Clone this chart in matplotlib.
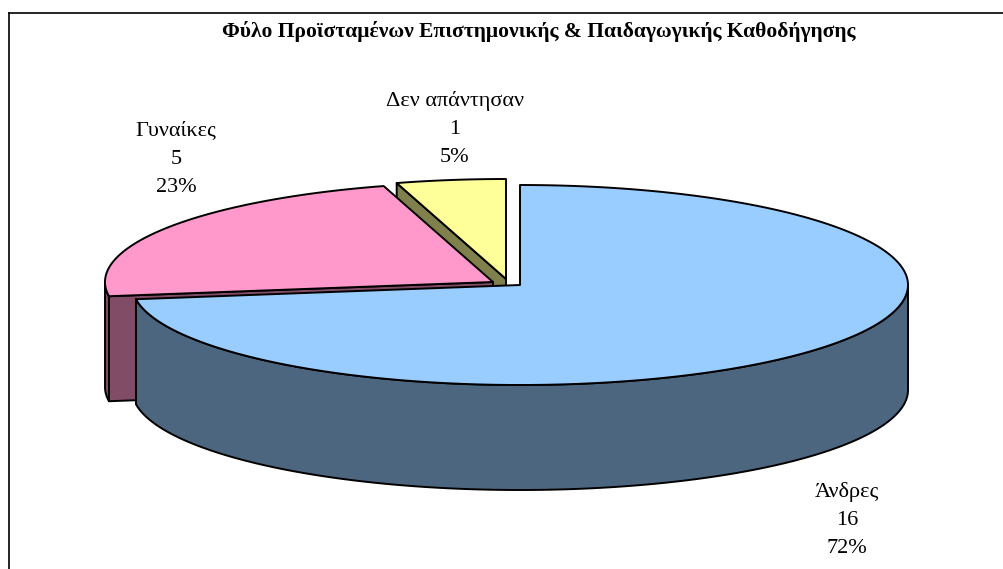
import matplotlib.pyplot as plt
import numpy as np
from matplotlib.patches import Polygon

title = "Φύλο Προϊσταμένων Επιστημονικής & Παιδαγωγικής Καθοδήγησης"
labels = ["Άνδρες", "Γυναίκες", "Δεν απάντησαν"]
counts = [16, 5, 1]
percents = [72, 23, 5]
top_colors = ["#99CCFF", "#FF99CC", "#FFFF99"]
side_colors = ["#4D6680", "#804C66", "#80804C"]
explode = [(0, 0), (-27, -3), (-14, -6)]      # pixel offsets of exploded slices
label_pos = [(847, 520), (176, 159), (455, 129)]

# pie geometry in pixels
cx, cy, rx, ry, depth = 520, 285, 388, 100, 105

fig = plt.figure(figsize=(10.04, 5.69), dpi=100)
ax = fig.add_axes([0, 0, 1, 1])
ax.set_xlim(0, 1004)
ax.set_ylim(569, 0)
ax.axis('off')

fracs = np.array(counts) / sum(counts)
ends = 90 - 360 * np.cumsum(fracs)
starts = ends + 360 * fracs


def arc(a_from, a_to, ox, oy, dz=0, n=300):
    r = np.radians(np.linspace(a_from, a_to, n))
    return np.column_stack([cx + ox + rx * np.cos(r), cy + oy - ry * np.sin(r) + dz])


def pt(a, ox, oy, dz=0):
    r = np.radians(a)
    return (cx + ox + rx * np.cos(r), cy + oy - ry * np.sin(r) + dz)


lw = 1.4
z = 1
for i in [2, 1, 0]:  # back to front
    a1, a2 = starts[i], ends[i]
    ox, oy = explode[i]
    c = (cx + ox, cy + oy)
    cb = (c[0], c[1] + depth)
    kw = dict(edgecolor='black', linewidth=lw, joinstyle='round')

    # radial walls facing the viewer
    if np.cos(np.radians(a1)) < -1e-6:
        p, pb = pt(a1, ox, oy), pt(a1, ox, oy, depth)
        ax.add_patch(Polygon([c, p, pb, cb], facecolor=side_colors[i], zorder=z, **kw))
    if np.cos(np.radians(a2)) > 1e-6:
        p, pb = pt(a2, ox, oy), pt(a2, ox, oy, depth)
        ax.add_patch(Polygon([c, p, pb, cb], facecolor=side_colors[i], zorder=z, **kw))

    # front part of outer wall
    a = np.linspace(a2, a1, 2000)
    front = a[np.sin(np.radians(a)) < 0]
    if len(front) > 1:
        top = arc(front[0], front[-1], ox, oy)
        bot = arc(front[-1], front[0], ox, oy, depth)
        ax.add_patch(Polygon(np.vstack([top, bot]), facecolor=side_colors[i], zorder=z + 1, **kw))

    # top face
    face = np.vstack([[c], arc(a2, a1, ox, oy)])
    ax.add_patch(Polygon(face, facecolor=top_colors[i], zorder=z + 2, **kw))
    z += 3

for i in range(3):
    x, y = label_pos[i]
    ax.text(x, y, f"{labels[i]}\n{counts[i]}\n{percents[i]}%", ha='center', va='center',
            multialignment='center', fontfamily='Liberation Serif', fontsize=16,
            linespacing=1.65, zorder=20)

ax.text(539, 31, title, ha='center', va='center', fontfamily='Liberation Serif',
        fontweight='bold', fontsize=15.5, zorder=20)

# chart frame
ax.plot([9, 1004], [13, 13], color='black', lw=1.2, zorder=20)
ax.plot([9, 9], [13, 569], color='black', lw=1.2, zorder=20)

fig.savefig("out.png", dpi=100)
